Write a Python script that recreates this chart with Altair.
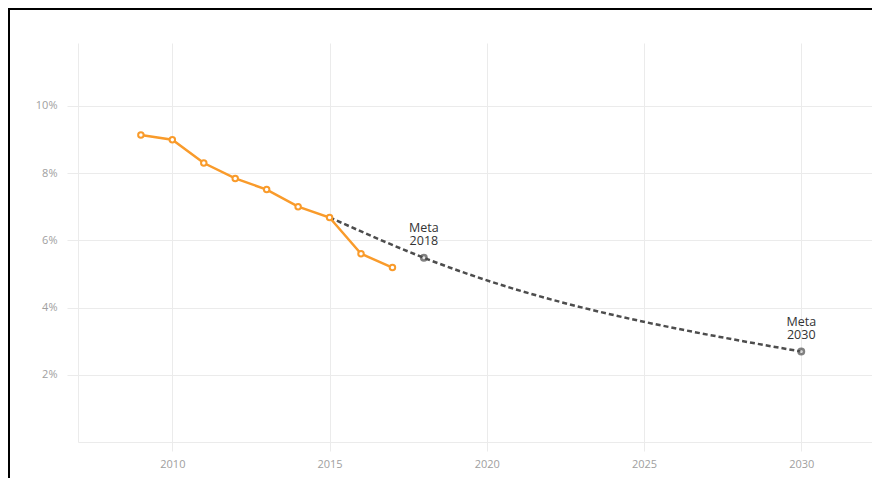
import altair as alt
import pandas as pd

# Observed series
years = [2009, 2010, 2011, 2012, 2013, 2014, 2015, 2016, 2017]
rates = [9.13, 8.99, 8.30, 7.84, 7.51, 7.00, 6.68, 5.60, 5.19]

# Target path (Meta)
meta_years = [2015, 2018, 2030]
meta_values = [6.68, 5.48, 2.69]
meta_labels = ["", "Meta\n2018", "Meta\n2030"]

x_ticks = [2010, 2015, 2020, 2025, 2030]
y_ticks = [2, 4, 6, 8, 10]

obs = pd.DataFrame({"year": years, "value": rates})
meta = pd.DataFrame({"year": meta_years, "value": meta_values, "label": meta_labels})

GRID = "#ebebeb"
LABEL = "#a0a0a0"
ORANGE = "#f99b2b"
DARK = "#4d4d4d"

xs = alt.Scale(domain=[2007, 2032.25], nice=False, zero=False)
ys = alt.Scale(domain=[0, 11.87], nice=False, zero=False)

xax = alt.Axis(values=x_ticks, format="d", title=None, grid=True,
               gridColor=GRID, domainColor=GRID, tickColor=GRID, tickSize=9,
               labelColor=LABEL, labelFontSize=11, labelPadding=7,
               labelFont="Open Sans")
yax = alt.Axis(values=y_ticks, labelExpr="datum.value + '%'", title=None, grid=True,
               gridColor=GRID, domainColor=GRID, tickColor=GRID, tickSize=11,
               labelColor=LABEL, labelFontSize=11, labelPadding=10,
               labelFont="Open Sans")

meta_line = alt.Chart(meta).mark_line(
    color=DARK, strokeWidth=2.5, strokeDash=[5, 3], interpolate="monotone"
).encode(
    x=alt.X("year:Q", scale=xs, axis=xax),
    y=alt.Y("value:Q", scale=ys, axis=yax),
)

obs_line = alt.Chart(obs).mark_line(
    color=ORANGE, strokeWidth=2.5,
    point=alt.OverlayMarkDef(filled=True, fill="white", stroke=ORANGE,
                             strokeWidth=2, size=30)
).encode(
    x=alt.X("year:Q", scale=xs),
    y=alt.Y("value:Q", scale=ys),
)

meta_pts = alt.Chart(meta).transform_filter("datum.label != ''").mark_point(
    shape="circle", filled=True, fill="#e0e0e0", stroke=DARK, strokeWidth=2.5, size=30
).encode(
    x=alt.X("year:Q", scale=xs),
    y=alt.Y("value:Q", scale=ys),
)

meta_text = alt.Chart(meta).transform_filter("datum.label != ''").mark_text(
    lineBreak="\n", baseline="bottom", align="center", dy=-23,
    fontSize=12.5, color="#333333", font="Open Sans", lineHeight=13
).encode(
    x=alt.X("year:Q", scale=xs),
    y=alt.Y("value:Q", scale=ys),
    text="label:N",
)

frame_top = alt.Chart(obs).mark_rule(color="black", strokeWidth=2).encode(
    x=alt.value(-70), x2=alt.value(794), y=alt.value(-34)
)
frame_left = alt.Chart(obs).mark_rule(color="black", strokeWidth=2).encode(
    x=alt.value(-69), y=alt.value(-35), y2=alt.value(443)
)

chart = alt.layer(
    meta_line, obs_line, meta_pts, meta_text, frame_top, frame_left
).properties(
    width=794, height=399,
    autosize=alt.AutoSizeParams(type="none"),
    padding={"left": 70, "top": 35, "right": 0, "bottom": 36},
).configure(
    background="white",
    view=alt.ViewConfig(stroke=None),
)

chart.save("out.html", embed_options={"renderer": "svg", "actions": False})
